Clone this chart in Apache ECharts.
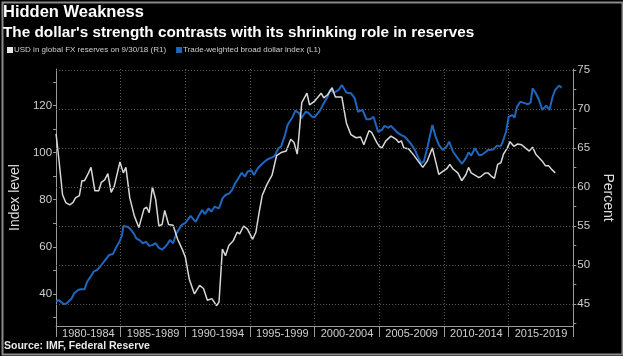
<!DOCTYPE html>
<html>
<head>
<meta charset="utf-8">
<script src="https://cdn.jsdelivr.net/npm/echarts@6/dist/echarts.min.js"></script>
<style>
html,body{margin:0;padding:0;background:#000;}
#chart{width:623px;height:356px;}
</style>
</head>
<body>
<div id="chart"></div>
<script>
// ---- Data ----
const periodLabels = ['1980-1984','1985-1989','1990-1994','1995-1999','2000-2004','2005-2009','2010-2014','2015-2019'];
const leftTickLabels = [40, 60, 80, 100, 120];
const rightTickLabels = [45, 50, 55, 60, 65, 70, 75];

// USD share of global FX reserves, percent (R1)
const usdShareYears = [1980.0,1980.25,1980.5,1980.75,1981.05,1981.3,1981.5,1981.8,1982.0,1982.2,1982.45,1982.7,1983.0,1983.3,1983.5,1983.76,1984.0,1984.26,1984.5,1984.94,1985.2,1985.4,1985.7,1986.05,1986.4,1986.8,1987.0,1987.2,1987.45,1987.7,1987.95,1988.2,1988.4,1988.7,1989.05,1989.2,1989.4,1989.8,1990.0,1990.3,1990.7,1991.1,1991.4,1991.7,1992.05,1992.4,1992.6,1992.86,1993.1,1993.36,1993.7,1994.0,1994.2,1994.5,1994.8,1995.2,1995.45,1995.7,1995.94,1996.3,1996.7,1997.05,1997.4,1997.8,1998.15,1998.4,1998.65,1998.8,1999.0,1999.4,1999.6,2000.0,2000.5,2000.7,2001.0,2001.35,2001.6,2002.1,2002.45,2002.8,2003.2,2003.55,2003.8,2004.2,2004.4,2004.8,2005.0,2005.2,2005.5,2005.9,2006.3,2006.5,2006.7,2006.9,2007.25,2007.6,2008.0,2008.36,2008.5,2008.7,2008.86,2009.1,2009.35,2009.6,2009.96,2010.2,2010.45,2010.7,2011.07,2011.37,2011.7,2011.9,2012.1,2012.3,2012.7,2012.9,2013.2,2013.4,2013.65,2013.9,2014.15,2014.4,2014.6,2014.9,2015.1,2015.4,2015.7,2016.0,2016.35,2016.6,2016.85,2017.1,2017.35,2017.6,2017.85,2018.1,2018.3,2018.6];
const usdShareValues = [66.8,63.0,59.0,58.0,57.7,58.0,58.6,58.9,60.8,60.8,61.6,62.5,59.5,59.5,60.6,60.9,61.7,59.3,60.1,63.2,61.8,62.5,58.6,56.3,54.8,57.2,57.4,56.7,60.0,58.4,55.0,55.2,57.0,55.2,55.1,55.0,53.3,51.85,51.0,48.2,46.3,47.4,47.0,45.5,45.7,44.8,45.25,52.05,51.2,52.5,53.1,54.2,54.0,55.0,54.6,53.3,54.2,56.7,58.9,60.3,61.5,64.0,64.4,64.6,66.1,65.7,64.2,66.9,70.8,72.0,70.5,71.0,72.0,71.4,71.8,72.7,71.5,71.5,68.2,66.7,66.3,66.4,65.4,67.2,67.0,65.7,65.2,65.0,65.9,66.5,66.1,65.7,65.9,65.0,64.9,64.2,63.3,62.5,62.7,63.3,64.0,65.0,63.3,61.6,62.05,62.3,62.9,62.3,61.8,60.8,61.6,62.5,61.8,61.6,61.2,61.4,61.8,61.8,61.4,61.1,62.9,63.1,64.2,65.0,65.8,65.2,65.5,65.4,64.9,64.6,65.1,64.2,63.75,63.3,62.7,62.7,62.3,61.8];

// Trade-weighted broad dollar index (L1)
const dollarIndexYears = [1980.0,1980.2,1980.6,1980.8,1981.2,1981.4,1981.7,1981.9,1982.2,1982.4,1982.7,1982.9,1983.15,1983.4,1983.6,1983.9,1984.1,1984.4,1984.6,1984.9,1985.1,1985.2,1985.5,1985.7,1986.0,1986.2,1986.5,1986.7,1986.96,1987.2,1987.45,1987.7,1987.95,1988.2,1988.4,1988.6,1988.8,1989.05,1989.3,1989.7,1990.0,1990.4,1990.8,1991.0,1991.3,1991.5,1991.8,1992.0,1992.25,1992.6,1992.87,1993.1,1993.4,1993.6,1993.85,1994.1,1994.35,1994.6,1994.8,1995.1,1995.3,1995.6,1995.94,1996.3,1996.7,1996.9,1997.2,1997.4,1997.7,1997.9,1998.3,1998.5,1998.8,1998.96,1999.3,1999.5,1999.8,2000.0,2000.4,2000.7,2001.0,2001.2,2001.5,2001.85,2002.1,2002.46,2002.8,2003.1,2003.35,2003.7,2004.0,2004.3,2004.55,2004.7,2004.9,2005.2,2005.4,2005.7,2005.9,2006.15,2006.4,2006.7,2006.96,2007.2,2007.5,2007.75,2008.0,2008.25,2008.44,2008.7,2009.1,2009.35,2009.6,2009.9,2010.2,2010.4,2010.7,2011.07,2011.4,2011.7,2011.9,2012.1,2012.4,2012.7,2012.9,2013.2,2013.4,2013.8,2014.1,2014.35,2014.5,2014.8,2015.0,2015.3,2015.45,2015.65,2015.9,2016.1,2016.5,2016.7,2016.85,2017.1,2017.35,2017.6,2017.9,2018.15,2018.4,2018.6,2018.9,2019.1];
const dollarIndexValues = [36.6,37.3,35.6,35.9,38.0,40.2,41.6,41.9,41.9,45.1,47.5,49.4,50.1,51.5,52.9,55.1,56.5,56.9,59.3,62.1,65.0,68.8,68.5,67.8,65.7,63.6,62.6,61.5,62.1,60.4,60.7,61.5,59.5,58.8,59.8,61.0,62.9,61.5,65.7,69.2,70.2,73.1,70.6,72.8,75.6,73.9,76.3,74.9,77.0,76.3,80.6,82.0,82.7,84.1,87.0,89.1,91.5,89.8,91.9,92.6,90.5,93.4,95.3,97.0,98.0,98.6,101.9,102.6,107.5,111.8,115.3,117.9,116.8,114.6,117.4,117.0,115.3,115.1,117.9,121.0,123.8,126.7,125.5,126.7,128.8,125.5,125.3,123.1,117.4,118.2,114.2,114.2,115.3,114.6,108.9,109.7,111.4,110.6,111.4,110.0,108.5,107.5,106.8,105.4,103.3,101.2,98.0,95.5,96.2,101.9,111.8,106.8,103.3,101.2,102.6,104.7,100.4,97.6,95.3,97.8,100.1,98.8,101.9,99.0,99.0,100.2,101.2,101.4,103.0,102.6,104.0,108.9,115.3,116.0,114.9,119.6,121.7,121.3,120.6,121.4,127.4,125.3,122.4,118.2,120.0,118.2,123.8,126.7,128.5,127.7];

const usdShareName = 'USD in global FX reserves on 9/30/18 (R1)';
const dollarIndexName = 'Trade-weighted broad dollar index (L1)';

// ---- Build series data ----
const usdShare = usdShareYears.map((y, i) => [y, usdShareValues[i]]);
const dollarIndex = dollarIndexYears.map((y, i) => [y, dollarIndexValues[i]]);
const leftMinorTicks = [];
for (let v = 30; v <= 130; v += 10) leftMinorTicks.push(v);
const rightMinorTicks = [];
for (let v = 42.5; v <= 75; v += 2.5) rightMinorTicks.push(v);

const axisColor = '#9a9a9a';
const labelColor = '#cfcfcf';
const font = 'Liberation Sans';
const blue = '#1f66bf';

const chart = echarts.init(document.getElementById('chart'), null, {renderer: 'canvas'});
chart.setOption({
  backgroundColor: '#000',
  animation: false,
  textStyle: {fontFamily: font},
  title: [
    {text: 'Hidden Weakness', left: 3, top: 4, padding: 0,
     textStyle: {color: '#fff', fontSize: 16.5, fontWeight: 'bold', fontFamily: font}},
    {text: "The dollar's strength contrasts with its shrinking role in reserves", left: 3, top: 25, padding: 0,
     textStyle: {color: '#fff', fontSize: 15.3, fontWeight: 'bold', fontFamily: font}}
  ],
  legend: {
    left: 7, top: 46, padding: 0, itemGap: 10,
    itemWidth: 6, itemHeight: 6, icon: 'rect',
    textStyle: {color: labelColor, fontSize: 8, fontFamily: font, padding: [0, 0, 0, -4]},
    data: [
      {name: usdShareName, itemStyle: {color: '#e6e6e6'}},
      {name: dollarIndexName, itemStyle: {color: blue}}
    ]
  },
  grid: {left: 44, right: 37, top: 69, bottom: 30, containLabel: false},
  xAxis: [
    {type: 'value', min: 1980, max: 2020, interval: 5,
     axisLine: {show: false}, axisTick: {show: false}, axisLabel: {show: false},
     splitLine: {show: true, lineStyle: {color: '#5a5a5a', type: [1, 2], width: 1}}},
    {type: 'category', data: periodLabels, position: 'bottom', boundaryGap: true,
     axisLine: {show: true, lineStyle: {color: axisColor, width: 1}},
     axisTick: {show: true, length: 11, interval: 0, lineStyle: {color: axisColor}},
     axisLabel: {color: labelColor, fontSize: 11, margin: 2, interval: 0, fontFamily: font},
     splitLine: {show: false}}
  ],
  yAxis: [
    {type: 'value', min: 26.3, max: 135.6, position: 'left',
     name: 'Index level', nameLocation: 'middle', nameGap: 34, nameRotate: 90,
     nameTextStyle: {color: '#dcdcdc', fontSize: 14, fontFamily: font},
     axisLine: {show: true, lineStyle: {color: axisColor}},
     axisTick: {show: true, length: 3, customValues: leftMinorTicks, lineStyle: {color: axisColor}},
     axisLabel: {color: labelColor, fontSize: 11.5, margin: 4, customValues: leftTickLabels, fontFamily: font},
     splitLine: {show: false}},
    {type: 'value', min: 42.2, max: 75.1, position: 'right',
     name: 'Percent', nameLocation: 'middle', nameGap: 27, nameRotate: -90,
     nameTextStyle: {color: '#dcdcdc', fontSize: 14, fontFamily: font},
     axisLine: {show: true, lineStyle: {color: axisColor}},
     axisTick: {show: true, length: 3, customValues: rightMinorTicks, lineStyle: {color: axisColor}},
     axisLabel: {color: labelColor, fontSize: 11.5, margin: 4, customValues: rightTickLabels, fontFamily: font},
     splitLine: {show: false}}
  ],
  series: [
    {name: usdShareName, type: 'line', xAxisIndex: 0, yAxisIndex: 1, data: usdShare,
     showSymbol: false, symbol: 'none', lineStyle: {color: '#d8d8d8', width: 1.5}, itemStyle: {color: '#e6e6e6'},
     z: 3,
     markLine: {silent: true, symbol: 'none', label: {show: false},
       lineStyle: {color: '#5a5a5a', type: [1, 2], width: 1},
       data: rightTickLabels.map(v => ({yAxis: v}))}},
    {name: dollarIndexName, type: 'line', xAxisIndex: 0, yAxisIndex: 0, data: dollarIndex,
     showSymbol: false, symbol: 'none', lineStyle: {color: blue, width: 2}, itemStyle: {color: blue},
     z: 2}
  ],
  graphic: [
    {type: 'rect', left: 0, top: 0, shape: {x: 1, y: 1, width: 620, height: 352},
     style: {fill: 'none', stroke: '#8a8a8a', lineWidth: 2}, silent: true},
    {type: 'text', left: 4, top: 341,
     style: {text: 'Source: IMF, Federal Reserve', fill: '#e8e8e8', font: 'bold 10.5px "Liberation Sans"'}}
  ]
});
</script>
</body>
</html>
